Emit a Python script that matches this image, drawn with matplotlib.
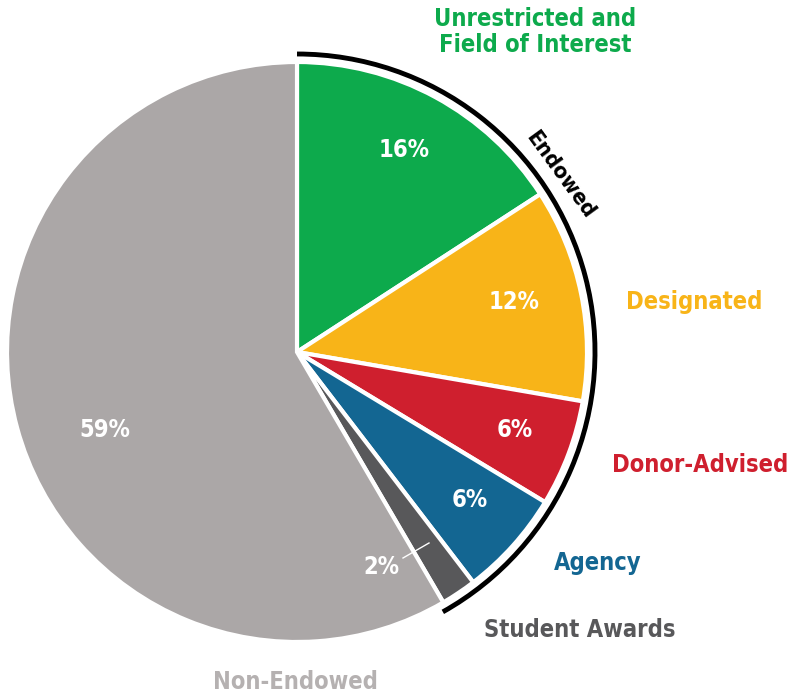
import matplotlib
matplotlib.use('Agg')
import matplotlib.pyplot as plt
from matplotlib.patches import Arc

labels = ['Unrestricted and\nField of Interest', 'Designated', 'Donor-Advised',
          'Agency', 'Student Awards', 'Non-Endowed']
values = [16, 12, 6, 6, 2, 59]
pct_text = ['16%', '12%', '6%', '6%', '2%', '59%']
colors = ['#0DAA4C', '#F8B418', '#CF1F2E', '#136692', '#58585A', '#ABA7A7']
label_colors = ['#0DAA4C', '#F8B418', '#CF1F2E', '#136692', '#58585A', '#B5B1B1']

plt.rcParams['font.family'] = ['DejaVu Sans']

fig = plt.figure(figsize=(7.87, 6.95), dpi=100)
ax = fig.add_axes([0, 0, 1, 1])

cx, cy, r = 297, 695 - 352, 290
ax.pie(values, colors=colors, startangle=90, counterclock=False,
       center=(cx, cy), radius=r, frame=True,
       wedgeprops=dict(edgecolor='white', linewidth=3))
ax.set_xlim(0, 787)
ax.set_ylim(0, 695)
ax.axis('off')

# black arc round the endowed funds
end_ang = 90 - 360 * sum(values[:5]) / sum(values) - 1
ax.add_patch(Arc((cx, cy), 2 * 298, 2 * 298, theta1=end_ang, theta2=90,
                 color='black', linewidth=3.5))
ax.text(560, 695 - 175, 'Endowed', rotation=-54, ha='center', va='center',
        fontsize=16, fontweight='bold', fontstretch='condensed', color='black')

# category labels
lab_pos = [(535, 32), (694, 302), (700, 465), (598, 563), (580, 630), (295, 682)]
for lab, (x, y), c in zip(labels, lab_pos, label_colors):
    ax.text(x, 695 - y, lab, ha='center', va='center', fontsize=17,
            fontweight='bold', fontstretch='condensed', color=c, linespacing=1.15)

# percentage labels
pct_pos = [(404, 150), (514, 302), (515, 430), (470, 500), (381, 567), (105, 430)]
for t, (x, y) in zip(pct_text, pct_pos):
    ax.text(x, 695 - y, t, ha='center', va='center', fontsize=17,
            fontweight='bold', fontstretch='condensed', color='white')
ax.plot([403, 429], [695 - 558, 695 - 543], color='white', linewidth=1)

fig.savefig('out.png', dpi=100)
